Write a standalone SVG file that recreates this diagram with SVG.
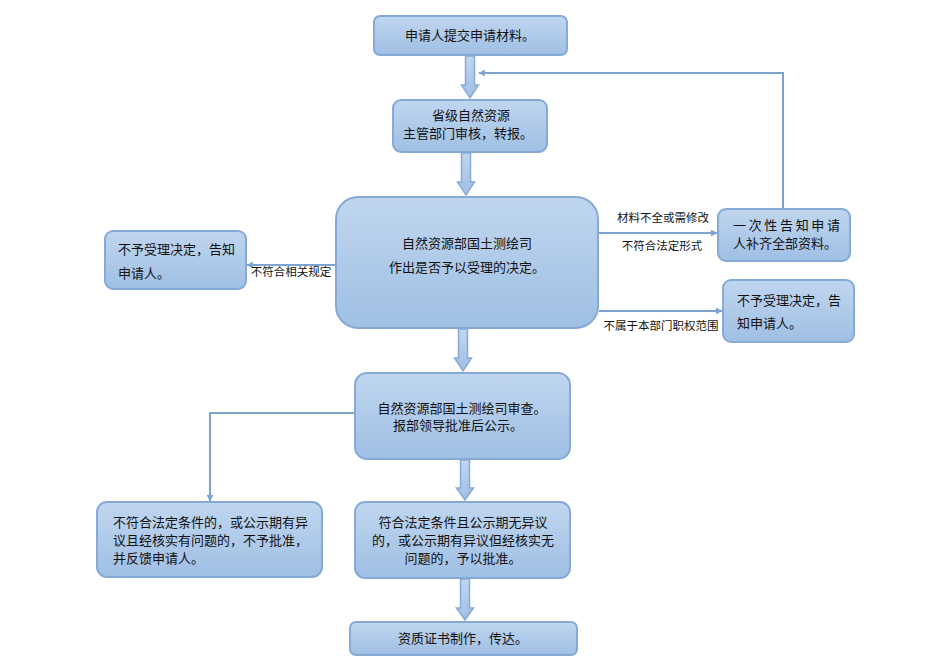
<svg xmlns="http://www.w3.org/2000/svg" width="949" height="665" viewBox="0 0 949 665">
<defs>
<linearGradient id="g" x1="0" y1="0" x2="0" y2="1">
<stop offset="0" stop-color="#c0d6ef"/>
<stop offset="1" stop-color="#9fbfe4"/>
</linearGradient>
<marker id="ah" viewBox="0 0 10 10" refX="9" refY="5" markerWidth="7" markerHeight="7" orient="auto" markerUnits="userSpaceOnUse">
<path d="M0,0 L10,5 L0,10 z" fill="#7ea3cf"/>
</marker>
<style>
.box{fill:url(#g);stroke:#86aad6;stroke-width:2}
.t{font-family:"Liberation Sans","Noto Sans CJK SC",sans-serif;font-size:13px;fill:#111}
.l{font-family:"Liberation Sans","Noto Sans CJK SC",sans-serif;font-size:11.5px;fill:#111}
.c{stroke:#7ea3cf;stroke-width:2;fill:none}
.ba{fill:url(#g);stroke:#86aad6;stroke-width:1.5}
</style>
</defs>
<rect width="949" height="665" fill="#fff"/>
<g id="connectors">
<path class="ba" d="M465.5,56 h9 v29 h4 l-8.5,13 l-8.5,-13 h4 z"/>
<path class="ba" d="M461.5,153 h9 v29 h4 l-8.5,13 l-8.5,-13 h4 z"/>
<path class="ba" d="M458.5,329 h9 v29 h4 l-8.5,13 l-8.5,-13 h4 z"/>
<path class="ba" d="M460.5,460 h9 v28 h4 l-8.5,12 l-8.5,-12 h4 z"/>
<path class="ba" d="M460.5,579 h9 v29 h4 l-8.5,12 l-8.5,-12 h4 z"/>
<path class="c" d="M783,209 V73 H479" marker-end="url(#ah)"/>
<path class="c" d="M599,233 H717" marker-end="url(#ah)"/>
<path class="c" d="M599,311 H722" marker-end="url(#ah)"/>
<path class="c" d="M335,265 H247" marker-end="url(#ah)"/>
<path class="c" d="M354,413 H210 V501" marker-end="url(#ah)"/>
<text class="l" x="663" y="222" text-anchor="middle">材料不全或需修改</text>
<text class="l" x="662" y="250" text-anchor="middle">不符合法定形式</text>
<text class="l" x="661" y="330" text-anchor="middle">不属于本部门职权范围</text>
<text class="l" x="291" y="276" text-anchor="middle">不符合相关规定</text>
</g>
<g id="n1"><rect class="box" x="374" y="16" width="193" height="39" rx="6"/>
<text class="t" x="470" y="40" text-anchor="middle">申请人提交申请材料。</text></g>
<g id="n2"><rect class="box" x="393" y="100" width="154" height="52" rx="8"/>
<text class="t" x="471" y="120" text-anchor="middle">省级自然资源</text>
<text class="t" x="468" y="138" text-anchor="middle">主管部门审核，转报。</text></g>
<g id="n3"><rect class="box" x="336" y="197" width="262" height="131" rx="22"/>
<text class="t" x="467" y="248" text-anchor="middle">自然资源部国土测绘司</text>
<text class="t" x="467" y="272" text-anchor="middle">作出是否予以受理的决定。</text></g>
<g id="n4"><rect class="box" x="105" y="231" width="141" height="58" rx="8"/>
<text class="t" x="118" y="254">不予受理决定，告知</text>
<text class="t" x="118" y="278">申请人。</text></g>
<g id="n5"><rect class="box" x="718" y="209" width="132" height="52" rx="8"/>
<text class="t" x="733" y="230" textLength="107" lengthAdjust="spacing">一次性告知申请</text>
<text class="t" x="733" y="248">人补齐全部资料。</text></g>
<g id="n6"><rect class="box" x="723" y="280" width="131" height="62" rx="8"/>
<text class="t" x="737" y="305">不予受理决定，告</text>
<text class="t" x="737" y="328">知申请人。</text></g>
<g id="n7"><rect class="box" x="355" y="373" width="215" height="86" rx="12"/>
<text class="t" x="462" y="413" text-anchor="middle">自然资源部国土测绘司审查。</text>
<text class="t" x="458" y="430" text-anchor="middle">报部领导批准后公示。</text></g>
<g id="n8"><rect class="box" x="97" y="502" width="225" height="75" rx="10"/>
<text class="t" x="113" y="527">不符合法定条件的，或公示期有异</text>
<text class="t" x="113" y="545">议且经核实有问题的，不予批准，</text>
<text class="t" x="113" y="563">并反馈申请人。</text></g>
<g id="n9"><rect class="box" x="355" y="502" width="215" height="76" rx="10"/>
<text class="t" x="463" y="527" text-anchor="middle">符合法定条件且公示期无异议</text>
<text class="t" x="463" y="545" text-anchor="middle">的，或公示期有异议但经核实无</text>
<text class="t" x="463" y="563" text-anchor="middle">问题的，予以批准。</text></g>
<g id="n10"><rect class="box" x="350" y="622" width="227" height="33" rx="6"/>
<text class="t" x="463" y="643" text-anchor="middle">资质证书制作，传达。</text></g>
</svg>
